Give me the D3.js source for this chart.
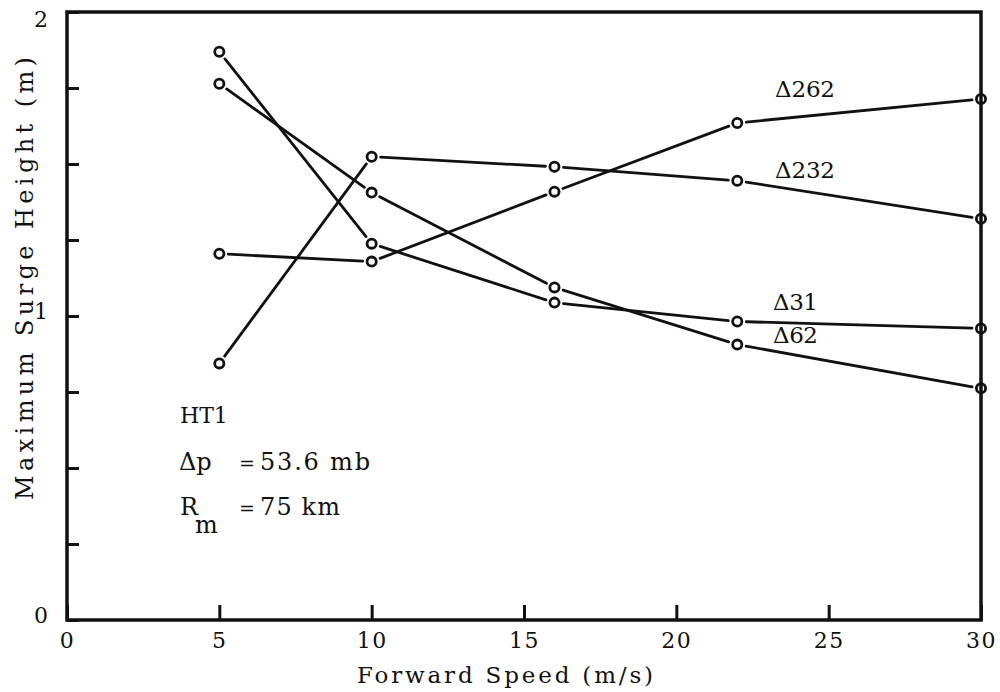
<!DOCTYPE html>
<html>
<head>
<meta charset="utf-8">
<script src="https://cdn.jsdelivr.net/npm/d3@7"></script>
<style>
  body { margin: 0; background: #fff; }
  text { font-family: "DejaVu Serif", "Liberation Serif", serif; fill: #111; }
</style>
</head>
<body>
<svg id="graph" width="1000" height="692"></svg>
<script>
// forward speed (m/s)
var speeds = [5, 10, 16, 22, 30];
// maximum surge height (m), one array per track
var d262 = [1.205, 1.179, 1.409, 1.635, 1.714];
var d232 = [0.844, 1.524, 1.491, 1.445, 1.320];
var d31  = [1.869, 1.238, 1.044, 0.982, 0.959];
var d62  = [1.764, 1.406, 1.094, 0.906, 0.762];
var seriesNames = ["\u0394262", "\u0394232", "\u039431", "\u039462"];
var xTicks = [0, 5, 10, 15, 20, 25, 30];
var yTicks = [0, 0.25, 0.5, 0.75, 1, 1.25, 1.5, 1.75, 2];

var series = [d262, d232, d31, d62].map(function (vals, i) {
    return { name: seriesNames[i], points: vals.map(function (v, j) { return [speeds[j], v]; }) };
});

var svg = d3.select("#graph");
var x = d3.scaleLinear().domain([0, 30]).range([67, 981]);
var y = d3.scaleLinear().domain([0, 2]).range([620, 12]);
var ink = "#111";
var font = "DejaVu Serif";

// ticks + labels
var gx = svg.append("g")
    .attr("transform", "translate(0," + y(0) + ")")
    .call(d3.axisBottom(x).tickValues(xTicks).tickSizeInner(-15).tickSizeOuter(0).tickPadding(12));
gx.select(".domain").remove();
gx.selectAll(".tick line").attr("stroke", ink).attr("stroke-width", 3);
gx.selectAll(".tick text").attr("font-size", 22).attr("font-family", font).attr("fill", ink)
    .attr("letter-spacing", 1.5);

var gy = svg.append("g")
    .attr("transform", "translate(" + x(0) + ",0)")
    .call(d3.axisLeft(y).tickValues(yTicks).tickSizeInner(-12).tickSizeOuter(0).tickPadding(19)
        .tickFormat(function (d) { return d % 1 === 0 ? d : ""; }));
gy.select(".domain").remove();
gy.selectAll(".tick line").attr("stroke", ink).attr("stroke-width", 3);
gy.selectAll(".tick text").attr("font-size", 22).attr("font-family", font).attr("fill", ink)
    .attr("dy", function (d) { return d === 2 ? "0.68em" : "0.12em"; });

// frame
svg.append("rect")
    .attr("x", x(0)).attr("y", y(2))
    .attr("width", x(30) - x(0)).attr("height", y(0) - y(2))
    .attr("fill", "none").attr("stroke", ink).attr("stroke-width", 3.5);

// lines stop short of the markers
var gap = 9;
series.forEach(function (s) {
    var px = s.points.map(function (p) { return [x(p[0]), y(p[1])]; });
    for (var i = 0; i < px.length - 1; i++) {
        var a = px[i], b = px[i + 1];
        var dx = b[0] - a[0], dy = b[1] - a[1];
        var len = Math.sqrt(dx * dx + dy * dy);
        var ux = dx / len, uy = dy / len;
        svg.append("line")
            .attr("x1", a[0] + ux * gap).attr("y1", a[1] + uy * gap)
            .attr("x2", b[0] - ux * gap).attr("y2", b[1] - uy * gap)
            .attr("stroke", ink).attr("stroke-width", 2.8).attr("stroke-linecap", "round");
    }
    svg.selectAll(null)
        .data(s.points)
        .enter()
        .append("circle")
        .attr("cx", d => x(d[0]))
        .attr("cy", d => y(d[1]))
        .attr("r", 4.6)
        .attr("fill", "none")
        .attr("stroke", ink)
        .attr("stroke-width", 2.8);
});

// series labels
var labelPos = [[775, 97, 60], [775, 178, 60], [773, 310, 45], [773, 343, 45]];
svg.selectAll(".lbl")
    .data(series)
    .enter()
    .append("text")
    .attr("class", "lbl")
    .attr("x", (d, i) => labelPos[i][0])
    .attr("y", (d, i) => labelPos[i][1])
    .attr("textLength", (d, i) => labelPos[i][2])
    .attr("lengthAdjust", "spacing")
    .attr("font-size", 23)
    .text(d => d.name);

// annotation
var note = svg.append("g").attr("font-size", 24);
function put(str, px, py, w) {
    var t = note.append("text").attr("x", px).attr("y", py).attr("xml:space", "preserve").text(str);
    if (w) t.attr("textLength", w).attr("lengthAdjust", "spacing");
    return t;
}
put("HT1", 180, 423).attr("font-size", 22);
put("\u0394p", 179, 470);
put("=", 239, 470).attr("font-size", 19);
put("53.6 mb", 260, 470, 110);
put("R", 180, 515);
put("m", 195, 533, 17);
put("=", 239, 515).attr("font-size", 19);
put("75 km", 260, 515, 80);

// axis titles
svg.append("text")
    .attr("x", 357).attr("y", 683)
    .attr("font-size", 23)
    .attr("textLength", 296)
    .attr("lengthAdjust", "spacing")
    .text("Forward Speed (m/s)");

svg.append("text")
    .attr("transform", "translate(33,500) rotate(-90)")
    .attr("font-size", 24)
    .attr("textLength", 443)
    .attr("lengthAdjust", "spacing")
    .text("Maximum Surge Height (m)");
</script>
</body>
</html>
